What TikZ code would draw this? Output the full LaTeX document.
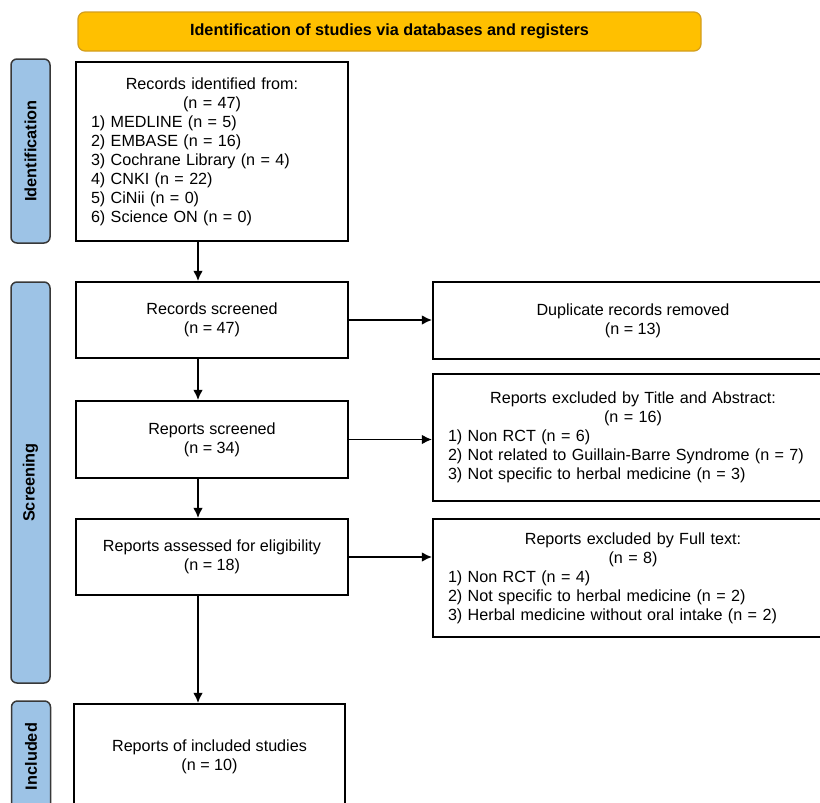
\documentclass[tikz,border=0pt]{standalone}
\usepackage{fontspec}
\setmainfont{Liberation Sans}
\usepackage{xcolor}
\usepackage{tikz}
\usetikzlibrary{arrows.meta,
positioning,
calc}

\definecolor{headfill}{HTML}{FFC000}
\definecolor{headline}{HTML}{D39E1E}
\definecolor{phasefill}{HTML}{9DC3E6}
\definecolor{phaseline}{HTML}{383838}
\setlength{\parindent}{0pt}

\begin{document}
\begin{tikzpicture}[
    x=1pt, y=-1pt,
    >={Latex[length=10pt,width=9.5pt]},
    font=\fontsize{16.15}{19}\selectfont,
    rec/.style={
        draw,
        line width=2.2pt,
        minimum width=272pt,
        align=center,
        fill=white
    },
    list/.style={
        rec,
        align=left,
        inner xsep=0pt
    },
    phase/.style={
        draw=phaseline,
        line width=1.5pt,
        fill=phasefill,
        rounded corners=6pt,
        rotate=90,
        minimum height=39pt,
        font=\fontsize{16.3}{19}\selectfont\bfseries
    },
    header/.style={
        draw=headline,
        line width=1.2pt,
        fill=headfill,
        rounded corners=7pt,
        minimum width=623pt,
        minimum height=39pt,
        font=\fontsize{16.2}{19}\selectfont\bfseries
    },
    flow/.style={
        ->,
        line width=1.3pt
    }
]

\path[use as bounding box,clip] (0,0) rectangle (820,803);

%-------------------------------------------------
% Header and phase tabs
%-------------------------------------------------

\node[header] (head) at (389.5,31.5)
{Identification of studies via databases and registers};

\node[phase,minimum width=184pt] (pid) at (30.5,151) {Identification};
\node[phase,minimum width=401pt] (pscr) at (30.5,482.5) {Screening};
\node[phase,minimum width=111pt] (pinc) at (31,756.5) {Included};

%-------------------------------------------------
% Main column
%-------------------------------------------------

\node[list,minimum height=179pt,text width=242pt] (ident) at (212,151.5)
{{\centering Records identified from:\\ (n = 47)\par}
1) MEDLINE (n = 5)\\
2) EMBASE (n = 16)\\
3) Cochrane Library (n = 4)\\
4) CNKI (n = 22)\\
5) CiNii (n = 0)\\
6) Science ON (n = 0)};

\node[rec,minimum height=76pt] (rscr) at (212,320)
{Records screened\\(n = 47)};
\node[rec,minimum height=77pt] (pscrd) at (212,439.5)
{Reports screened\\(n = 34)};
\node[rec,minimum height=76pt] (elig) at (212,557)
{Reports assessed for eligibility\\(n = 18)};
\node[rec,minimum width=271pt,minimum height=106pt] (incl) at (209.5,757)
{Reports of included studies\\(n = 10)};

\draw[flow] ([xshift=-14pt]ident.south) -- ([xshift=-14pt]rscr.north);
\draw[flow] ([xshift=-14pt]rscr.south) -- ([xshift=-14pt]pscrd.north);
\draw[flow] ([xshift=-14pt]pscrd.south) -- ([xshift=-14pt]elig.north);
\draw[flow] ([xshift=-14pt]elig.south) -- ([xshift=-11.5pt]incl.north);

%-------------------------------------------------
% Exclusions
%-------------------------------------------------

\node[rec,minimum width=400pt,minimum height=77pt] (dup) at (633,320.5)
{Duplicate records removed\\(n = 13)};

\node[list,minimum width=400pt,minimum height=127pt,text width=370pt] (extab) at (633,437.5)
{{\centering Reports excluded by Title and Abstract:\\ (n = 16)\par}
1) Non RCT (n = 6)\\
2) Not related to Guillain-Barre Syndrome (n = 7)\\
3) Not specific to herbal medicine (n = 3)};

\node[list,minimum width=400pt,minimum height=118pt,text width=370pt] (exfull) at (633,578)
{{\centering Reports excluded by Full text:\\ (n = 8)\par}
1) Non RCT (n = 4)\\
2) Not specific to herbal medicine (n = 2)\\
3) Herbal medicine without oral intake (n = 2)};

\draw[flow] (rscr.east) -- (rscr.east -| dup.west);
\draw[flow] (pscrd.east) -- (pscrd.east -| extab.west);
\draw[flow] (elig.east) -- (elig.east -| exfull.west);

\end{tikzpicture}
\end{document}
